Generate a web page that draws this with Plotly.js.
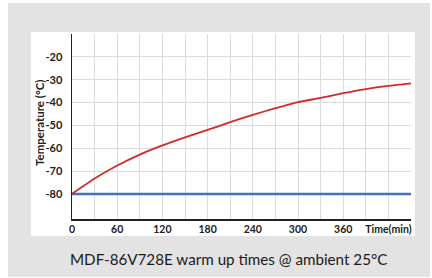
<!DOCTYPE html>
<html>
<head>
<meta charset="utf-8">
<script src="https://cdn.plot.ly/plotly-3.0.1.min.js"></script>
<style>html,body{margin:0;padding:0;background:#fff;}#chart{width:432px;height:278px;}</style>
</head>
<body>
<div id="chart"></div>
<script>
var timeMin = [0, 30, 60, 90, 120, 150, 180, 210, 240, 270, 300, 330, 360, 390, 420, 450];
var warmUp = [-80, -73.3, -67.6, -62.8, -58.8, -55.3, -52.0, -48.6, -45.4, -42.5, -39.8, -38.0, -35.9, -34.1, -32.7, -31.6];
var setPoint = [-80, -80, -80, -80, -80, -80, -80, -80, -80, -80, -80, -80, -80, -80, -80, -80];
var xTickVals = [0, 30, 60, 90, 120, 150, 180, 210, 240, 270, 300, 330, 360, 390, 420, 450];
var xTickText = ['0', '', '60', '', '120', '', '180', '', '240', '', '300', '', '360', '', 'Time(min)', ''];
var yTickVals = [-80, -70, -60, -50, -40, -30, -20, -10];
var yTickText = ['-80', '-70', '-60', '-50', '-40', '-30', '-20', ''];
var chartTitle = 'MDF-86V728E warm up times @ ambient 25°C';
var yTitle = 'Temperature (°C)';

var W = 432, H = 278, L = 72, R = 21, T = 34, B = 59;
var pw = W - L - R, ph = H - T - B;
function px(x){ return (x - L) / pw; }
function py(y){ return (H - B - y) / ph; }

var font = 'Lato, "Open Sans", sans-serif';
var data = [
  {x: timeMin, y: setPoint, mode: 'lines', line: {color: '#4472c4', width: 2.5}, hoverinfo: 'skip'},
  {x: timeMin, y: warmUp, mode: 'lines', line: {color: '#d42a2a', width: 1.8, shape: 'spline', smoothing: 0.6}, hoverinfo: 'skip'}
];
var layout = {
  width: W, height: H,
  margin: {l: L, r: R, t: T, b: B, pad: 0},
  paper_bgcolor: '#ffffff',
  plot_bgcolor: 'rgba(0,0,0,0)',
  showlegend: false,
  font: {family: font, color: '#222'},
  xaxis: {
    range: [0, 450], tickmode: 'array', tickvals: xTickVals, ticktext: xTickText,
    showgrid: true, gridcolor: '#dcdcdc', gridwidth: 1, zeroline: false,
    showline: true, linecolor: '#222', linewidth: 1.5, ticks: '',
    tickfont: {family: font, size: 10.5, color: '#222', weight: 'bold'}
  },
  yaxis: {
    range: [-91, -10], tickmode: 'array', tickvals: yTickVals, ticktext: yTickText,
    showgrid: true, gridcolor: '#dcdcdc', gridwidth: 1, zeroline: false,
    showline: true, linecolor: '#222', linewidth: 1.5, ticks: '', ticklabelstandoff: 6,
    tickfont: {family: font, size: 11, color: '#222', weight: 'bold'}
  },
  shapes: [
    {type: 'rect', xref: 'paper', yref: 'paper', x0: px(8), x1: px(430), y0: py(277), y1: py(3), fillcolor: '#e3e3e3', line: {width: 0}, layer: 'below'},
    {type: 'rect', xref: 'paper', yref: 'paper', x0: px(31), x1: px(415), y0: py(236), y1: py(32), fillcolor: '#ffffff', line: {width: 0}, layer: 'below'}
  ],
  annotations: [
    {text: chartTitle, xref: 'paper', yref: 'paper', x: px(228), y: py(259), xanchor: 'center', yanchor: 'middle', showarrow: false, font: {family: font, size: 15.2, color: '#1a1a1a'}},
    {text: yTitle, xref: 'paper', yref: 'paper', x: px(39), y: py(123), xanchor: 'center', yanchor: 'middle', textangle: -90, showarrow: false, font: {family: font, size: 11.5, color: '#222', weight: 'bold'}}
  ]
};
Plotly.newPlot('chart', data, layout, {staticPlot: true, displayModeBar: false});
</script>
</body>
</html>
